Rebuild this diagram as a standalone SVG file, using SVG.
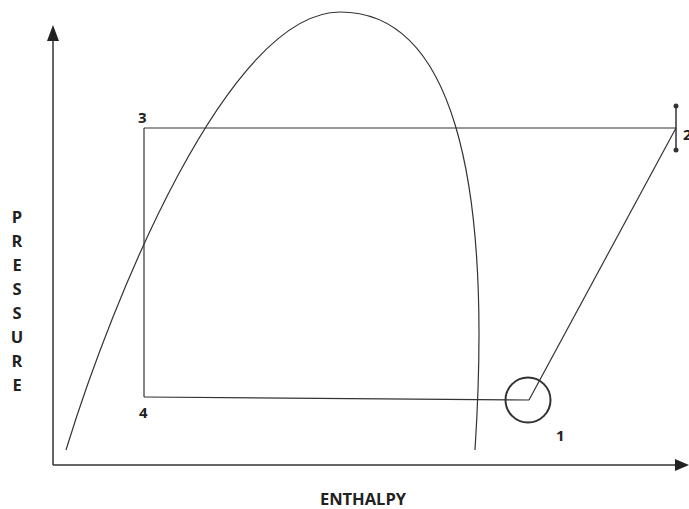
<svg xmlns="http://www.w3.org/2000/svg" width="689" height="509" viewBox="0 0 689 509">
<style>
.ln{fill:none;stroke:#333;stroke-width:1.2}
.ax{fill:none;stroke:#333;stroke-width:1.5}
.lb{font-family:"Open Sans","Liberation Sans",sans-serif;font-weight:bold;font-size:15px;fill:#222}
.big{font-size:16.5px}
</style>
<rect width="689" height="509" fill="#fff"/>
<g id="axes">
<line class="ax" x1="53" y1="465" x2="53" y2="38"/>
<polygon points="53,25 47,41 59,41" fill="#222"/>
<line class="ax" x1="53" y1="465" x2="678" y2="465"/>
<polygon points="689,465 675,459 675,471" fill="#222"/>
</g>
<g id="dome">
<path class="ln" d="M66,450 C112,300 228,12 340,12 C450,12 493,170 475,450"/>
</g>
<g id="connectors">
<line class="ln" x1="144" y1="128" x2="676" y2="128"/>
<line class="ln" x1="144" y1="128" x2="144" y2="397"/>
<line class="ln" x1="144" y1="397" x2="529" y2="400"/>
<line class="ln" x1="529" y1="400" x2="676" y2="128"/>
</g>
<g id="node1">
<circle cx="528" cy="400" r="22.5" fill="none" stroke="#333" stroke-width="2"/>
<text class="lb" x="556" y="441">1</text>
</g>
<g id="node2">
<line x1="676" y1="106" x2="676" y2="150" stroke="#333" stroke-width="1.5"/>
<circle cx="676" cy="106" r="2.5" fill="#333"/>
<circle cx="676" cy="150" r="2.5" fill="#333"/>
<text class="lb" x="683" y="140" font-size="13">2</text>
</g>
<g id="node3"><text class="lb" x="138" y="123">3</text></g>
<g id="node4"><text class="lb" x="139" y="418">4</text></g>
<g id="ylabel" class="lb big">
<text x="17" y="223" text-anchor="middle">P</text>
<text x="17" y="247" text-anchor="middle">R</text>
<text x="17" y="271" text-anchor="middle">E</text>
<text x="17" y="295" text-anchor="middle">S</text>
<text x="17" y="319" text-anchor="middle">S</text>
<text x="17" y="343" text-anchor="middle">U</text>
<text x="17" y="367" text-anchor="middle">R</text>
<text x="17" y="391" text-anchor="middle">E</text>
</g>
<g id="xlabel"><text class="lb big" x="363" y="505" text-anchor="middle">ENTHALPY</text></g>
</svg>
